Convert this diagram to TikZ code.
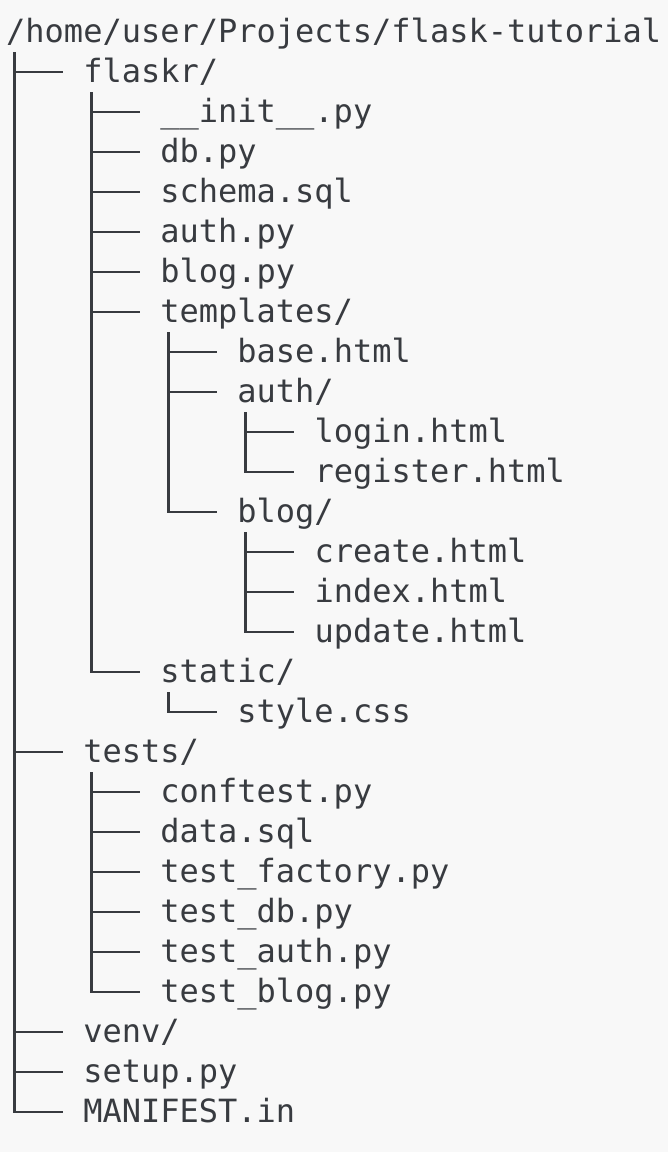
\documentclass[tikz,border=0pt]{standalone}
\usepackage{fontspec}
\setmonofont{DejaVu Sans Mono}
\definecolor{bg}{HTML}{F8F8F8}
\definecolor{fg}{HTML}{383B40}
\begin{document}
\begin{tikzpicture}[x=1pt,y=1pt,
  entry/.style={anchor=west, inner sep=0pt, text height=26pt, text depth=6pt,
    font=\ttfamily\fontsize{32}{40}\selectfont, text=fg},
  conn/.style={draw=fg, line width=2.5pt}]
\fill[bg] (0,0) rectangle (668,-1152);
\useasboundingbox (0,0) rectangle (668,-1152);
\node[entry] (root)      at (6,-32)       {/home/user/Projects/flask-tutorial};
\node[entry] (flaskr)    at (83.08,-72)   {flaskr/};
\node[entry] (init)      at (160.16,-112) {\_\_init\_\_.py};
\node[entry] (db)        at (160.16,-152) {db.py};
\node[entry] (schema)    at (160.16,-192) {schema.sql};
\node[entry] (auth)      at (160.16,-232) {auth.py};
\node[entry] (blog)      at (160.16,-272) {blog.py};
\node[entry] (templates) at (160.16,-312) {templates/};
\node[entry] (base)      at (237.24,-352) {base.html};
\node[entry] (tauth)     at (237.24,-392) {auth/};
\node[entry] (login)     at (314.32,-432) {login.html};
\node[entry] (register)  at (314.32,-472) {register.html};
\node[entry] (tblog)     at (237.24,-512) {blog/};
\node[entry] (create)    at (314.32,-552) {create.html};
\node[entry] (index)     at (314.32,-592) {index.html};
\node[entry] (update)    at (314.32,-632) {update.html};
\node[entry] (static)    at (160.16,-672) {static/};
\node[entry] (stylecss)  at (237.24,-712) {style.css};
\node[entry] (tests)     at (83.08,-752)  {tests/};
\node[entry] (conftest)  at (160.16,-792) {conftest.py};
\node[entry] (data)      at (160.16,-832) {data.sql};
\node[entry] (factory)   at (160.16,-872) {test\_factory.py};
\node[entry] (testdb)    at (160.16,-912) {test\_db.py};
\node[entry] (testauth)  at (160.16,-952) {test\_auth.py};
\node[entry] (testblog)  at (160.16,-992) {test\_blog.py};
\node[entry] (venv)      at (83.08,-1032) {venv/};
\node[entry] (setup)     at (83.08,-1072) {setup.py};
\node[entry] (manifest)  at (83.08,-1112) {MANIFEST.in};
\foreach \p/\c in {root/flaskr, root/tests, root/venv, root/setup, root/manifest,
  flaskr/init, flaskr/db, flaskr/schema, flaskr/auth, flaskr/blog, flaskr/templates, flaskr/static,
  templates/base, templates/tauth, templates/tblog,
  tauth/login, tauth/register,
  tblog/create, tblog/index, tblog/update,
  static/stylecss,
  tests/conftest, tests/data, tests/factory, tests/testdb, tests/testauth, tests/testblog}
  \draw[conn] ([xshift=8.5pt,yshift=-20pt]\p.west) |- ([xshift=-20pt]\c.west);
\end{tikzpicture}
\end{document}
